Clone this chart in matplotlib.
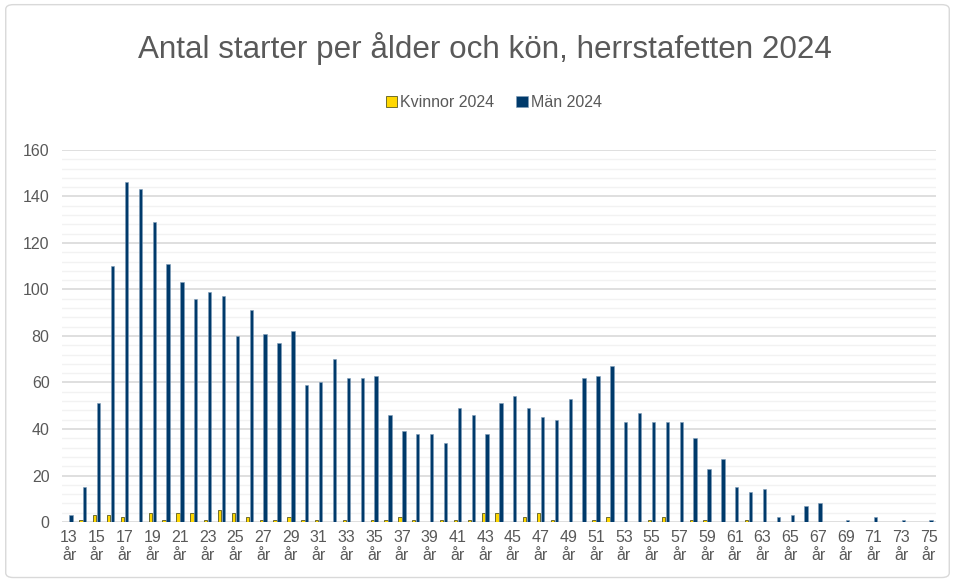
import matplotlib.pyplot as plt
from matplotlib.patches import FancyBboxPatch
import numpy as np

plt.rcParams['font.family'] = ['Liberation Sans', 'DejaVu Sans']

# Data: ages 13-75
ages = list(range(13, 76))
kvinnor = [0, 1, 3, 3, 2, 0, 4, 1, 4, 4, 1, 5, 4, 2, 1, 1, 2, 1, 1, 0,
           1, 0, 1, 1, 2, 1, 0, 1, 1, 1, 4, 4, 0, 2, 4, 1, 0, 0, 1, 2,
           0, 0, 1, 2, 0, 1, 1, 0, 0, 1, 0, 0, 0, 0, 0, 0, 0, 0, 0, 0,
           0, 0, 0]
man = [3, 15, 51, 110, 146, 143, 129, 111, 103, 96, 99, 97, 80, 91, 81, 77, 82, 59, 60, 70,
       62, 62, 63, 46, 39, 38, 38, 34, 49, 46, 38, 51, 54, 49, 45, 44, 53, 62, 63, 67,
       43, 47, 43, 43, 43, 36, 23, 27, 15, 13, 14, 2, 3, 7, 8, 0, 1, 0, 2, 0,
       1, 0, 1]
tick_labels = [f"{a}\når" if (a - 13) % 2 == 0 else "" for a in ages]

fig = plt.figure(figsize=(9.55, 5.81), dpi=100)
ax = fig.add_axes([0.065, 0.1015, 0.915, 0.6405])

x = np.arange(len(ages))
w = 0.24
ax.bar(x - 0.14, kvinnor, width=w, color='#FFD700', edgecolor='#5A5A1E', linewidth=0.6,
       label='Kvinnor 2024', zorder=3)
ax.bar(x + 0.14, man, width=w, color='#003A6B', edgecolor='#7F9CB8', linewidth=0.4,
       label='Män 2024', zorder=3)

ax.set_xlim(-0.5, len(ages) - 0.5)
ax.set_ylim(0, 160)
ax.set_yticks(range(0, 161, 20))
ax.set_yticks(range(0, 161, 4), minor=True)
ax.grid(axis='y', which='major', color='#D9D9D9', linewidth=1.2, zorder=0)
ax.grid(axis='y', which='minor', color='#F2F2F2', linewidth=1.0, zorder=0)
ax.set_xticks(x)
ax.set_xticklabels(tick_labels, linespacing=1.25)
ax.tick_params(axis='both', which='both', length=0, colors='#595959', labelsize=11.5)
ax.tick_params(axis='x', pad=6)
ax.tick_params(axis='y', pad=9)
for s in ax.spines.values():
    s.set_visible(False)

fig.text(0.508, 0.917, 'Antal starter per ålder och kön, herrstafetten 2024',
         ha='center', va='center', fontsize=22.6, color='#595959')
fig.legend(loc='center', bbox_to_anchor=(0.517, 0.824), ncol=2, frameon=False,
           fontsize=11.5, labelcolor='#595959', handlelength=0.7, handleheight=0.7,
           handletextpad=0.2, columnspacing=1.4)

fig.patches.append(FancyBboxPatch((0.006, 0.006), 0.988, 0.986, transform=fig.transFigure,
                                  boxstyle='round,pad=0,rounding_size=0.008',
                                  fill=False, edgecolor='#D9D9D9', linewidth=1))

fig.savefig('out.png', dpi=100)
